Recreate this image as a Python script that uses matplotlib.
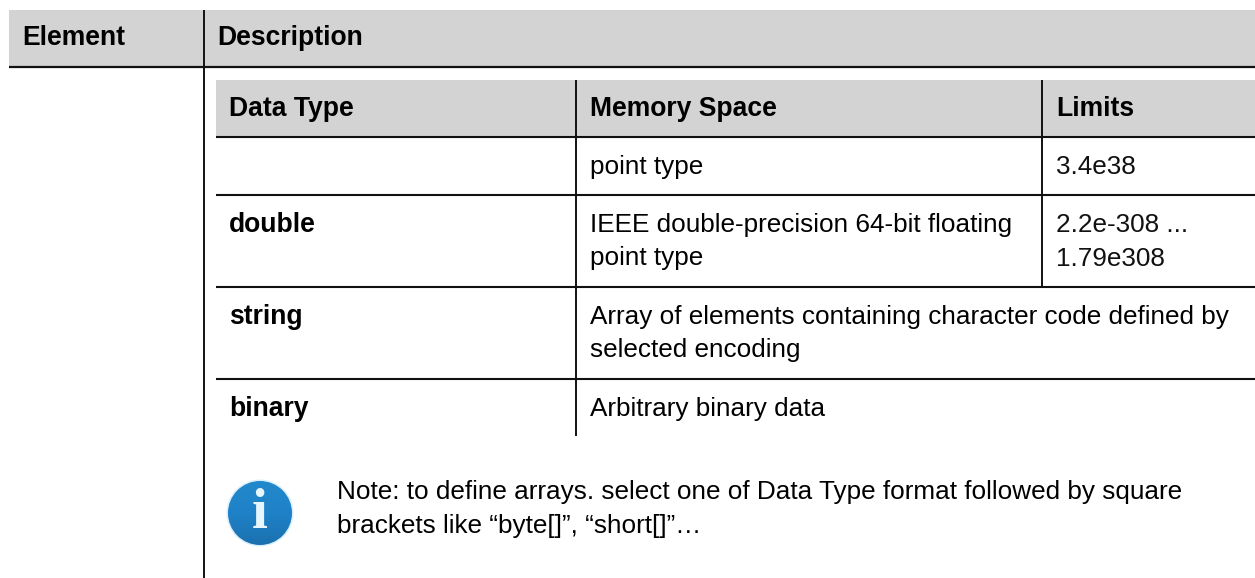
import matplotlib
matplotlib.use("Agg")
from matplotlib import pyplot as plt
from matplotlib.colors import LinearSegmentedColormap
from matplotlib.patches import Rectangle, Circle
import numpy as np

W, H = 1255, 578

outer_headers = ["Element", "Description"]
inner_headers = ["Data Type", "Memory Space", "Limits"]
data_types = ["", "double", "string", "binary"]
memory_space = ["point type", "IEEE double-precision 64-bit floating\npoint type",
                "Array of elements containing character code defined by\nselected encoding",
                "Arbitrary binary data"]
limits = ["3.4e38", "2.2e-308 ...\n1.79e308", "", ""]
note = ["Note: to define arrays. select one of Data Type format followed by square",
        "brackets like \u201cbyte[]\u201d, \u201cshort[]\u201d\u2026"]

plt.rcParams['font.family'] = ['Liberation Sans', 'DejaVu Sans']

fig = plt.figure(figsize=(W / 100, H / 100), dpi=100)
ax = fig.add_axes([0, 0, 1, 1])

fs = 18.8
fs_bold = 19.1
gap = 33.5
gray = '#d3d3d3'
ink = '#111111'

ax.add_patch(Rectangle((9, 10), W - 9, 57, color=gray, lw=0))
ax.add_patch(Rectangle((216, 80), W - 216, 56, color=gray, lw=0))

# outer table
ax.plot([9, W], [67, 67], color=ink, lw=1.6, solid_capstyle='butt')
ax.plot([204, 204], [10, H], color=ink, lw=1.4, solid_capstyle='butt')
ax.text(22, 45, outer_headers[0], fontsize=fs_bold, fontweight='bold', va='baseline', color='black')
ax.text(217, 45, outer_headers[1], fontsize=fs_bold, fontweight='bold', va='baseline', color='black')

# inner table
for y in [137, 195, 287, 379]:
    ax.plot([216, W], [y, y], color=ink, lw=1.5, solid_capstyle='butt')
ax.plot([576, 576], [80, 436], color=ink, lw=1.4, solid_capstyle='butt')
ax.plot([1042, 1042], [80, 287], color=ink, lw=1.4, solid_capstyle='butt')

ax.text(229, 116, inner_headers[0], fontsize=fs_bold, fontweight='bold', va='baseline', color='black')
ax.text(590, 116, inner_headers[1], fontsize=fs_bold, fontweight='bold', va='baseline', color='black')
ax.text(1056, 116, inner_headers[2], fontsize=fs_bold, fontweight='bold', va='baseline', color='black')

# first baseline of each row
row_y = [174, 232, 324, 416]
for y, d, m, l in zip(row_y, data_types, memory_space, limits):
    ax.text(229, y, d, fontsize=fs_bold, fontweight='bold', va='baseline', color='black')
    for i, line in enumerate(m.split("\n")):
        ax.text(590, y + gap * i, line, fontsize=fs, va='baseline', color='black')
    for i, line in enumerate(l.split("\n")):
        ax.text(1056, y + gap * i, line, fontsize=fs, va='baseline', color='#111111')

# info icon
ax.add_patch(Circle((260, 513), 33.5, color='#d9f0fa', lw=0))
grad = np.linspace(0, 1, 64).reshape(-1, 1)
icon_cmap = LinearSegmentedColormap.from_list('icon', ['#2388cc', '#1f82c8', '#1b70ae'])
im = ax.imshow(grad, extent=(227, 293, 546, 480), cmap=icon_cmap, aspect='auto', zorder=2)
im.set_clip_path(Circle((260, 513), 32, transform=ax.transData))
ax.text(260, 528, "i", fontsize=41, family='Liberation Serif', fontweight='bold', color='#e6f6fc',
        ha='center', va='baseline', zorder=3)

ax.text(337, 499.5, note[0], fontsize=fs, va='baseline', color='black')
ax.text(337, 533, note[1], fontsize=fs, va='baseline', color='black')

ax.set_xlim(0, W)
ax.set_ylim(H, 0)
ax.axis('off')

fig.savefig("out.png", dpi=100)
